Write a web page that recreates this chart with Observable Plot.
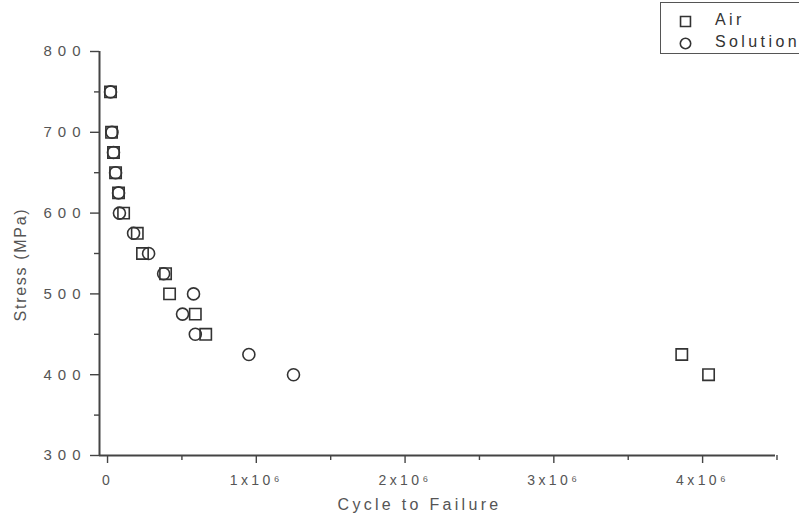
<!DOCTYPE html>
<html>
<head>
<meta charset="utf-8">
<script src="https://cdn.jsdelivr.net/npm/d3@7"></script>
<script src="https://cdn.jsdelivr.net/npm/@observablehq/plot@0.6"></script>
<style>
  html, body { margin: 0; padding: 0; background: #fff; }
  #wrap { position: relative; width: 799px; height: 517px; overflow: hidden; font-family: "Liberation Sans", Arial, sans-serif; }
  #wrap > svg { display: block; }
  g[aria-label="y-axis tick label"] text { letter-spacing: 6px; }
  g[aria-label="x-axis tick label"] text { letter-spacing: 3.4px; }
  #legend { position: absolute; left: 660px; top: 2px; width: 160px; height: 52px; border: 1px solid #555; box-sizing: border-box; background: #fff; }
  #legend svg { position: absolute; }
  #legend span { position: absolute; left: 54px; font-size: 16px; line-height: 20px; color: #333; letter-spacing: 3.4px; white-space: nowrap; }
</style>
</head>
<body>
<div id="wrap"></div>
<script>
// Data
const stressLevels = [750, 700, 675, 650, 625, 600, 575, 550, 525, 500, 475, 450, 425, 400];
const airCycles      = [0.02e6, 0.027e6, 0.04e6, 0.054e6, 0.074e6, 0.108e6, 0.20e6, 0.235e6, 0.39e6, 0.417e6, 0.59e6, 0.66e6, 3.86e6, 4.04e6];
const solutionCycles = [0.02e6, 0.03e6, 0.04e6, 0.054e6, 0.074e6, 0.08e6, 0.175e6, 0.276e6, 0.377e6, 0.578e6, 0.504e6, 0.59e6, 0.95e6, 1.25e6];
const seriesNames = ["Air", "Solution"];
const xTitle = "Cycle to Failure";
const yTitle = "Stress (MPa)";

const xDomain = [-0.054e6, 4.49e6];
const yDomain = [300, 800];
const xTicks = [0, 1e6, 2e6, 3e6, 4e6];
const xMinorTicks = [0.5e6, 1.5e6, 2.5e6, 3.5e6, 4.5e6];
const yTicks = [300, 400, 500, 600, 700, 800];
const yMinorTicks = [350, 450, 550, 650, 750];

const air = stressLevels.map((s, i) => ({cycles: airCycles[i], stress: s}));
const solution = stressLevels.map((s, i) => ({cycles: solutionCycles[i], stress: s}));

const fmtX = d => d === 0 ? "0" : `${d / 1e6}x10\u2076`;
const ink = "#444";
const textInk = "#555";

const chart = Plot.plot({
  width: 799,
  height: 517,
  marginLeft: 99,
  marginRight: 24,
  marginTop: 51,
  marginBottom: 62,
  style: { fontFamily: "'Liberation Sans', Arial, sans-serif", color: ink, background: "#fff" },
  x: { domain: xDomain, axis: null },
  y: { domain: yDomain, axis: null },
  marks: [
    Plot.axisY(yTicks, { tickSize: 9, tickPadding: 4, fontSize: 15, stroke: ink, strokeWidth: 1.4, fill: textInk, label: null }),
    Plot.axisY(yMinorTicks, { tickSize: 5, text: null, stroke: ink, strokeWidth: 1.4, label: null }),
    Plot.axisX(xTicks, { tickSize: 8, tickPadding: 12, fontSize: 14, stroke: ink, strokeWidth: 1.4, fill: textInk, tickFormat: fmtX, label: null }),
    Plot.axisX(xMinorTicks, { tickSize: 5, text: null, stroke: ink, strokeWidth: 1.4, label: null }),
    Plot.ruleY([yDomain[0]], { stroke: ink, strokeWidth: 2 }),
    Plot.ruleX([xDomain[0]], { stroke: ink, strokeWidth: 2 }),
    Plot.text([xTitle], { text: d => d, frameAnchor: "bottom", textAnchor: "middle", dx: -18, dy: 54, fontSize: 16, fill: textInk }),
    Plot.text([yTitle], { text: d => d, frameAnchor: "left", textAnchor: "middle", lineAnchor: "middle", rotate: -90, dx: -79, dy: 11, fontSize: 16, fill: textInk }),
    Plot.dot(air, { x: "cycles", y: "stress", symbol: "square", r: 6.4, stroke: "#333", strokeWidth: 1.6, fill: "none" }),
    Plot.dot(solution, { x: "cycles", y: "stress", symbol: "circle", r: 6, stroke: "#333", strokeWidth: 1.6, fill: "none" })
  ]
});

// letter spacing for the axis titles
d3.select(chart).selectAll("text")
  .filter(function () { return this.textContent === xTitle; })
  .style("letter-spacing", "3.3px");
d3.select(chart).selectAll("text")
  .filter(function () { return this.textContent === yTitle; })
  .style("letter-spacing", "1.7px");

const wrap = document.getElementById("wrap");
wrap.appendChild(chart);

// Legend
const legend = document.createElement("div");
legend.id = "legend";
const symbols = ["square", "circle"];
const symTops = [8, 30];
const textTops = [7, 29];
seriesNames.forEach((name, i) => {
  const sym = Plot.plot({
    width: 16, height: 20, margin: 0,
    x: { domain: [0, 1], axis: null }, y: { domain: [0, 1], axis: null },
    marks: [Plot.dot([name], { x: () => 0.5, y: () => 0.5, symbol: symbols[i], r: i === 0 ? 5.6 : 5.2, stroke: "#333", strokeWidth: 1.6, fill: "none" })]
  });
  sym.style.left = "16px";
  sym.style.top = symTops[i] + "px";
  legend.appendChild(sym);
  const label = document.createElement("span");
  label.textContent = name;
  label.style.top = textTops[i] + "px";
  legend.appendChild(label);
});
wrap.appendChild(legend);
</script>
</body>
</html>
